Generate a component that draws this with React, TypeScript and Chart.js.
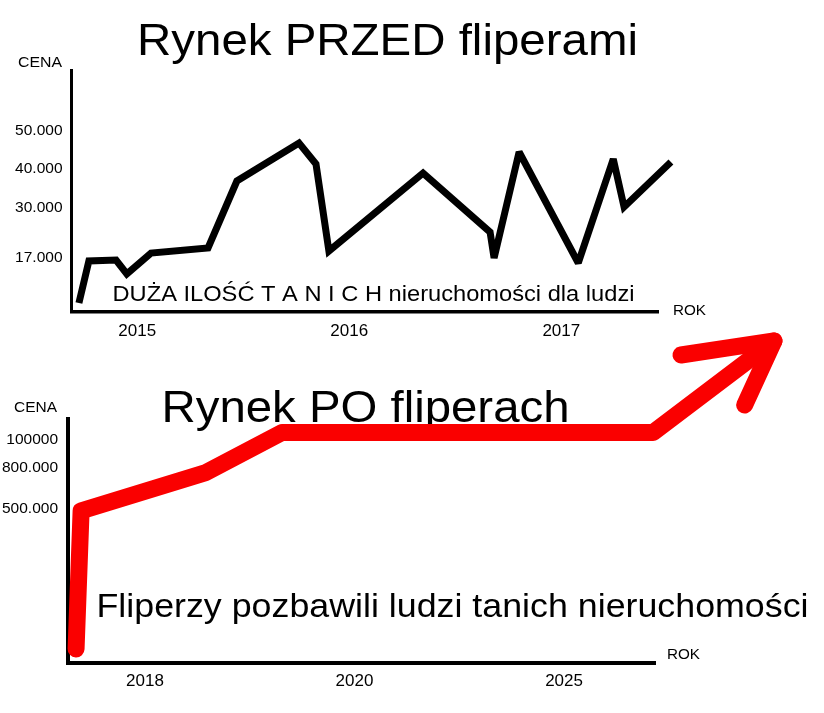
import React, { useEffect, useRef } from 'react';
import { Chart, registerables } from 'chart.js';

Chart.register(...registerables);

const FONT = '"Liberation Sans", Arial, Helvetica, sans-serif';

// ---------- Top chart: "Rynek PRZED fliperami" ----------
const topTitle = 'Rynek PRZED fliperami';
const topNote = 'DUŻA ILOŚĆ T A N I C H nieruchomości dla ludzi';
const topYears = [
  2014.725, 2014.772, 2014.9, 2014.951, 2015.065, 2015.334, 2015.47, 2015.763, 2015.843,
  2015.904, 2016.348, 2016.664, 2016.683, 2016.801, 2017.08, 2017.245, 2017.296, 2017.517,
];
const topPrices = [
  5360, 16230, 16490, 12870, 18300, 19600, 36940, 46780, 41340,
  18820, 39010, 23740, 17010, 44450, 15720, 42640, 30210, 41860,
];
const topYearTicks = [2015, 2016, 2017];
const topPriceTicks = [50000, 40000, 30000, 17000];
const topPriceTickLabels = ['50.000', '40.000', '30.000', '17.000'];

// ---------- Bottom chart: "Rynek PO fliperach" ----------
const bottomTitle = 'Rynek PO fliperach';
const bottomNote = 'Fliperzy pozbawili ludzi tanich nieruchomości';
const bottomPeriods = ['2018', '2020', '2025'];
const bottomPos = [-0.329, -0.305, 0.286, 0.654, 2.425, 3.002];
const bottomPrices = [-515000, 486000, 762000, 1055000, 1055000, 1719000];
const arrowPos = [2.558, 3.002, 2.862];
const arrowPrices = [1617000, 1719000, 1255000];
const bottomPriceTicks = [1000000, 800000, 500000];
const bottomPriceTickLabels = ['100000', '800.000', '500.000'];

const yLabel = 'CENA';
const xLabel = 'ROK';

type TextItem = { text: string; left: number; baseline: number; size: number; width: number };

function drawStretched(ctx: CanvasRenderingContext2D, t: TextItem) {
  ctx.save();
  ctx.font = `${t.size}px ${FONT}`;
  ctx.textAlign = 'left';
  ctx.textBaseline = 'alphabetic';
  ctx.fillStyle = '#000';
  const w = ctx.measureText(t.text).width;
  ctx.translate(t.left, t.baseline);
  ctx.scale(t.width / w, 1);
  ctx.fillText(t.text, 0, 0);
  ctx.restore();
}

function textPlugin(items: TextItem[]) {
  return {
    id: 'memeTexts',
    beforeDatasetsDraw(chart: any) {
      items.forEach((t) => drawStretched(chart.ctx, t));
      chart.ctx.miterLimit = 2.2;
    },
  };
}

const tickFont = (size: number) => ({ family: FONT, size });

export default function App() {
  const topRef = useRef<HTMLCanvasElement>(null);
  const bottomRef = useRef<HTMLCanvasElement>(null);

  useEffect(() => {
    const top = new Chart(topRef.current as HTMLCanvasElement, {
      type: 'line',
      data: {
        datasets: [
          {
            data: topYears.map((x, i) => ({ x, y: topPrices[i] })),
            borderColor: '#000',
            borderWidth: 7,
            pointRadius: 0,
            tension: 0,
            fill: false,
            clip: false as any,
            borderJoinStyle: 'miter',
            borderCapStyle: 'butt',
          },
        ],
      },
      options: {
        responsive: false,
        animation: false,
        devicePixelRatio: 1,
        layout: { padding: { left: 0, top: 70, right: 166, bottom: 361 } },
        plugins: { legend: { display: false }, tooltip: { enabled: false }, title: { display: false } },
        scales: {
          x: {
            type: 'linear',
            bounds: 'data',
            min: 2014.69,
            max: 2017.456,
            afterBuildTicks: (s: any) => {
              s.ticks = topYearTicks.map((v) => ({ value: v }));
            },
            afterFit: (s: any) => {
              s.height = 40;
            },
            grid: { display: false, drawTicks: false },
            border: { display: true, color: '#000', width: 3.5 },
            ticks: {
              padding: 9,
              color: '#000',
              font: tickFont(17),
              autoSkip: false,
              maxRotation: 0,
              callback: (v: any) => String(v),
            },
          },
          y: {
            type: 'linear',
            bounds: 'data',
            min: 3030,
            max: 65680,
            afterBuildTicks: (s: any) => {
              s.ticks = topPriceTicks.map((v) => ({ value: v }));
            },
            afterFit: (s: any) => {
              s.width = 71.5;
            },
            grid: { display: false, drawTicks: false },
            border: { display: true, color: '#000', width: 3 },
            ticks: {
              padding: 9,
              color: '#000',
              font: tickFont(15.5),
              autoSkip: false,
              callback: (_v: any, i: number) => topPriceTickLabels[i],
            },
          },
        },
      } as any,
      plugins: [
        textPlugin([
          { text: topTitle, left: 137, baseline: 55, size: 44.5, width: 501 },
          { text: topNote, left: 112.5, baseline: 300.5, size: 22, width: 522 },
          { text: yLabel, left: 18, baseline: 67, size: 15, width: 44 },
          { text: xLabel, left: 673, baseline: 314.5, size: 15, width: 33 },
        ]),
      ],
    });

    const bottom = new Chart(bottomRef.current as HTMLCanvasElement, {
      type: 'line',
      data: {
        datasets: [
          {
            data: bottomPos.map((x, i) => ({ x, y: bottomPrices[i] })),
            borderColor: '#fa0000',
            borderWidth: 17,
            pointRadius: 0,
            tension: 0,
            fill: false,
            clip: false as any,
            borderJoinStyle: 'round',
            borderCapStyle: 'round',
          },
          {
            data: arrowPos.map((x, i) => ({ x, y: arrowPrices[i] })),
            borderColor: '#fa0000',
            borderWidth: 17,
            pointRadius: 0,
            tension: 0,
            fill: false,
            clip: false as any,
            borderJoinStyle: 'round',
            borderCapStyle: 'round',
          },
        ],
      },
      options: {
        responsive: false,
        animation: false,
        devicePixelRatio: 1,
        layout: { padding: { left: 0, top: 419, right: 169, bottom: 10.5 } },
        plugins: { legend: { display: false }, tooltip: { enabled: false }, title: { display: false } },
        scales: {
          x: {
            type: 'linear',
            bounds: 'data',
            min: -0.3675,
            max: 2.434,
            afterBuildTicks: (s: any) => {
              s.ticks = bottomPeriods.map((_p, i) => ({ value: i }));
            },
            afterFit: (s: any) => {
              s.height = 40;
            },
            grid: { display: false, drawTicks: false },
            border: { display: true, color: '#000', width: 4 },
            ticks: {
              padding: 8.5,
              color: '#000',
              font: tickFont(17),
              autoSkip: false,
              maxRotation: 0,
              callback: (_v: any, i: number) => bottomPeriods[i],
            },
          },
          y: {
            type: 'linear',
            bounds: 'data',
            min: -613000,
            max: 1153000,
            afterBuildTicks: (s: any) => {
              s.ticks = bottomPriceTicks.map((v) => ({ value: v }));
            },
            afterFit: (s: any) => {
              s.width = 68;
            },
            grid: { display: false, drawTicks: false },
            border: { display: true, color: '#000', width: 4 },
            ticks: {
              padding: 10,
              color: '#000',
              font: tickFont(15.5),
              autoSkip: false,
              callback: (_v: any, i: number) => bottomPriceTickLabels[i],
            },
          },
        },
      } as any,
      plugins: [
        textPlugin([
          { text: bottomTitle, left: 161.5, baseline: 421.5, size: 44.3, width: 408 },
          { text: bottomNote, left: 96.5, baseline: 617, size: 33.5, width: 712 },
          { text: yLabel, left: 14, baseline: 411.5, size: 15, width: 43 },
          { text: xLabel, left: 667, baseline: 659, size: 15, width: 33 },
        ]),
      ],
    });

    return () => {
      top.destroy();
      bottom.destroy();
    };
  }, []);

  return (
    <div style={{ position: 'absolute', left: 0, top: 0, width: 824, height: 713, background: '#fff' }}>
      <canvas ref={bottomRef} width={824} height={713} style={{ position: 'absolute', left: 0, top: 0 }} />
      <canvas ref={topRef} width={824} height={713} style={{ position: 'absolute', left: 0, top: 0 }} />
    </div>
  );
}
